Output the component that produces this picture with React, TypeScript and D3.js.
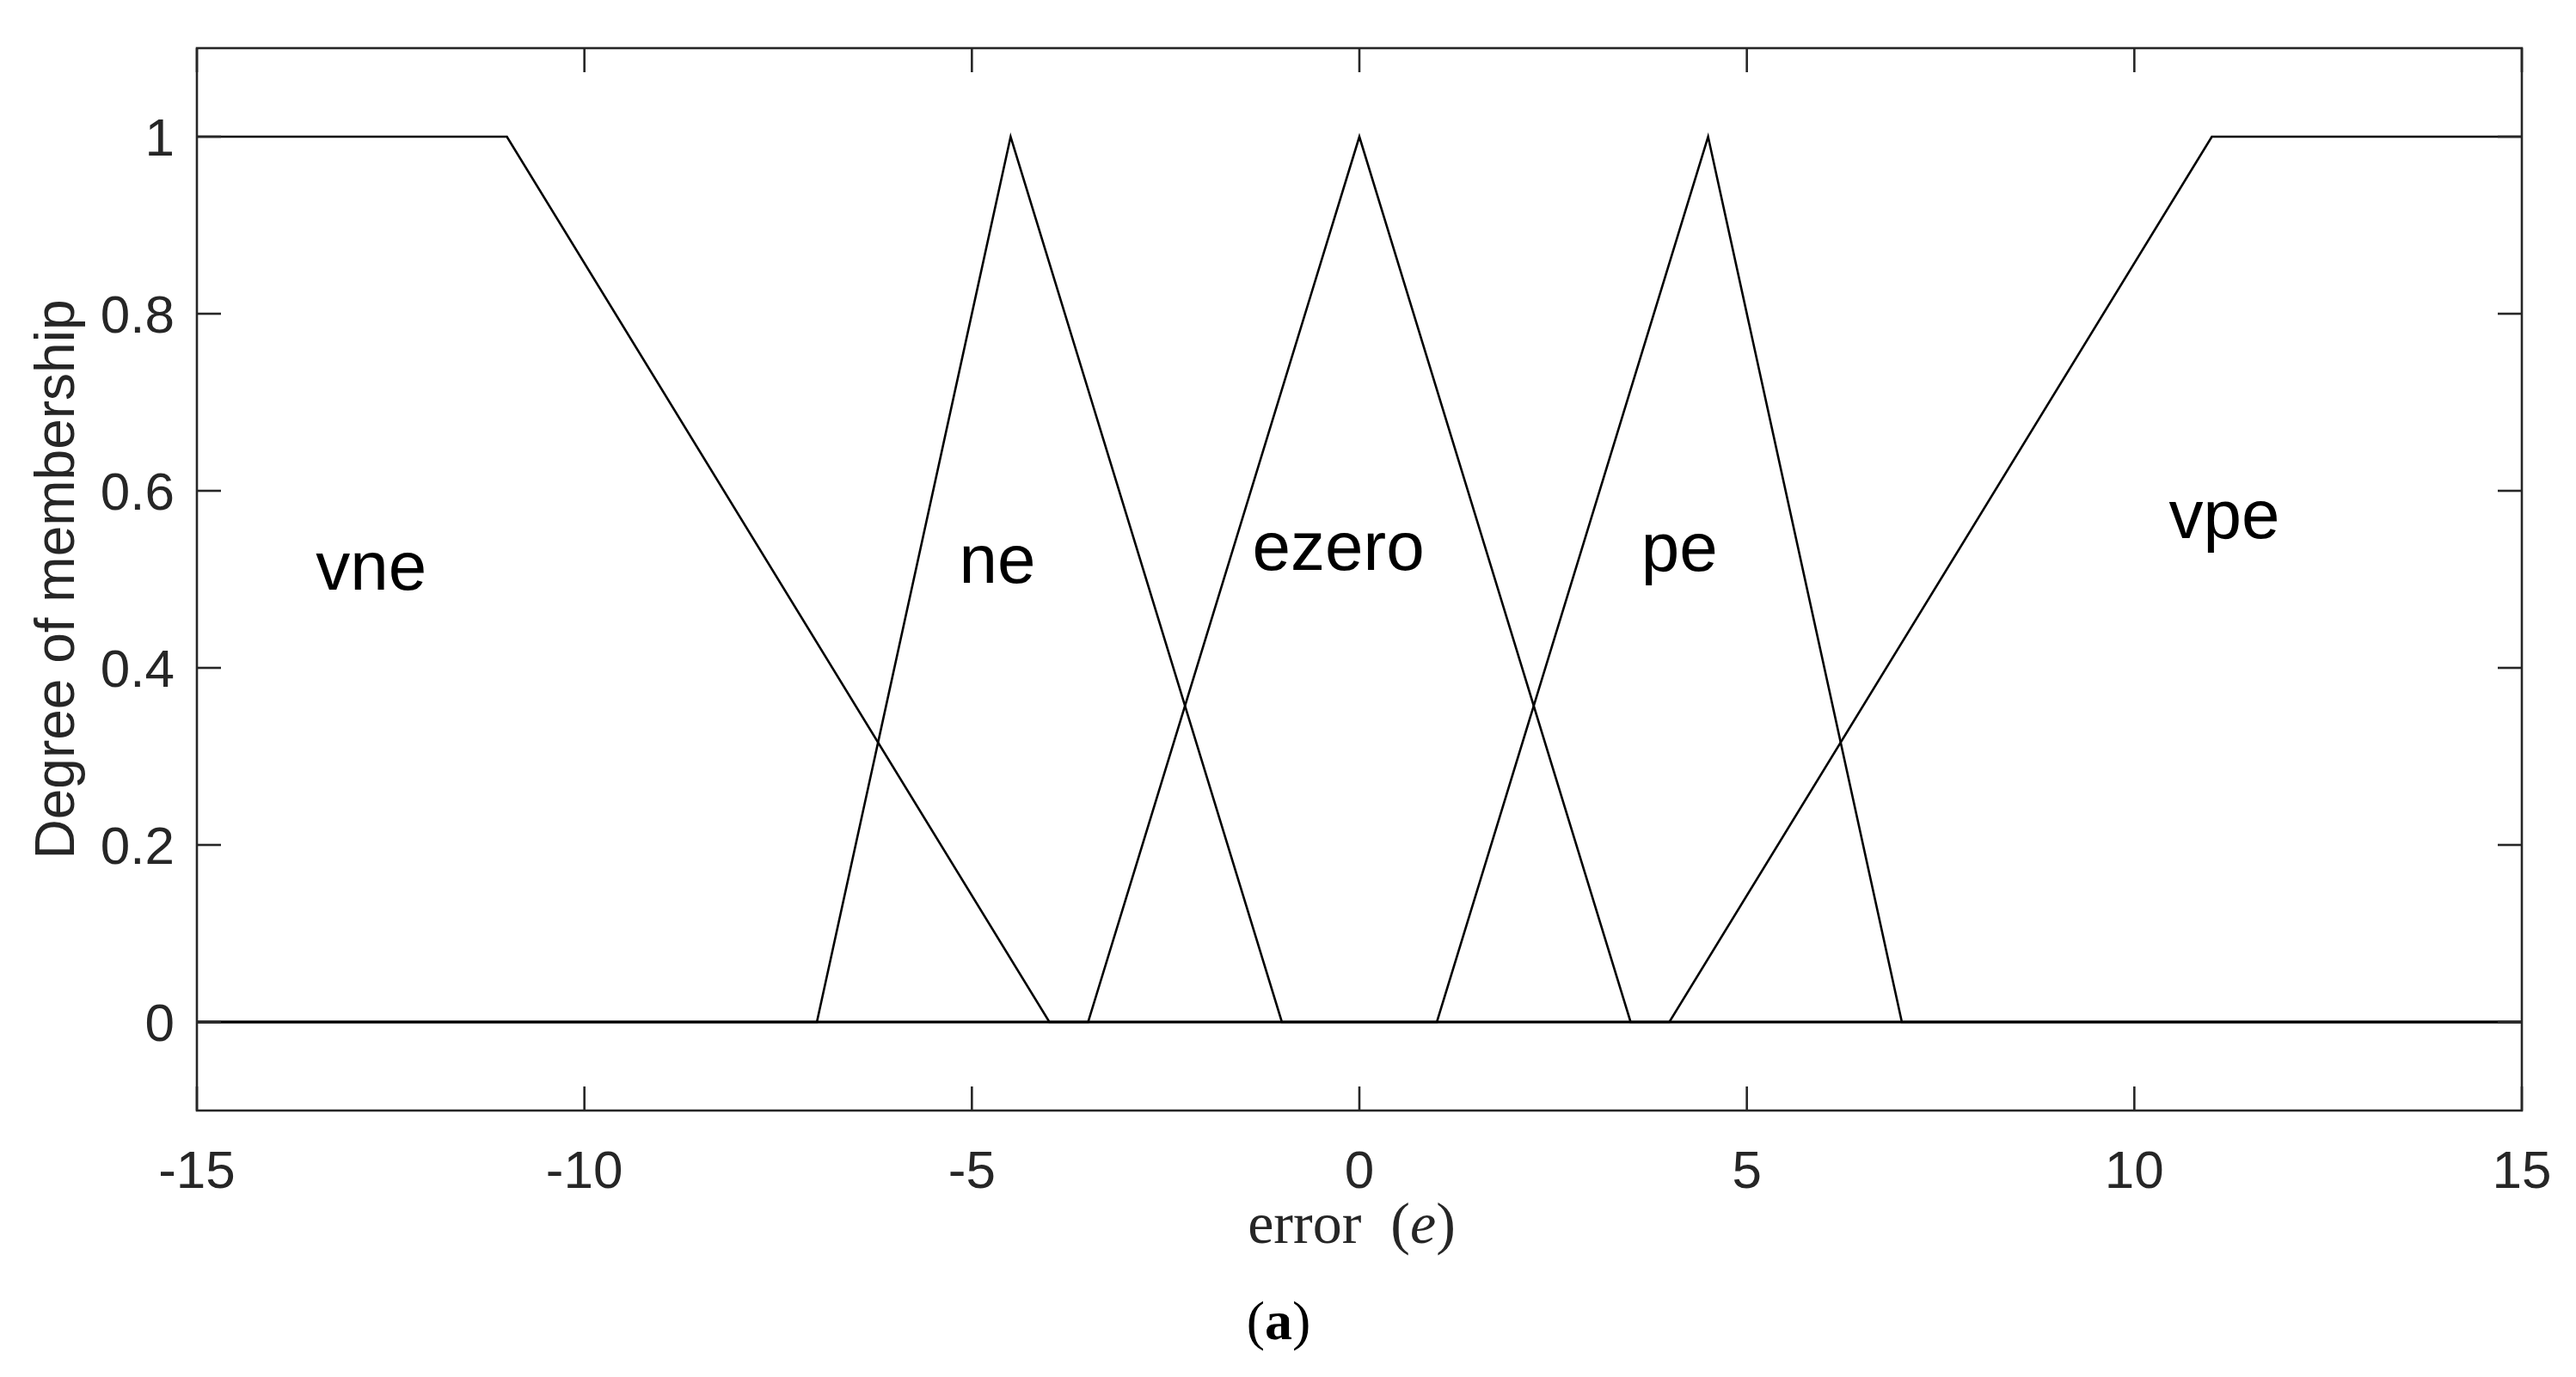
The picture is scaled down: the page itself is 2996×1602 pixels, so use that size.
import React, { useEffect, useRef } from "react";
import * as d3 from "d3";

// membership functions of the error input (breakpoints of each line)
const mfNames = ["vne", "ne", "ezero", "pe", "vpe"];
const vneX = [-15, -11, -4, 15];
const vneY = [1, 1, 0, 0];
const neX = [-15, -7, -4.5, -1, 15];
const neY = [0, 0, 1, 0, 0];
const ezeroX = [-15, -3.5, 0, 3.5, 15];
const ezeroY = [0, 0, 1, 0, 0];
const peX = [-15, 1, 4.5, 7, 15];
const peY = [0, 0, 1, 0, 0];
const vpeX = [-15, 4, 11, 15];
const vpeY = [0, 0, 1, 1];

// where the names sit, in data units
const labelX = [-12.75, -4.67, -0.27, 4.13, 11.16];
const labelY = [0.488, 0.496, 0.511, 0.51, 0.547];

const xTicks = [-15, -10, -5, 0, 5, 10, 15];
const yTicks = [0, 0.2, 0.4, 0.6, 0.8, 1];

const W = 2996, H = 1602;
const margin = { left: 229, right: 63, top: 56, bottom: 310 };

const App = () => {
  const svgRef = useRef<SVGSVGElement>(null);

  useEffect(() => {
    const svg = d3.select(svgRef.current);
    svg.selectAll("*").remove();

    const x = d3.scaleLinear().domain([-15, 15]).range([margin.left, W - margin.right]);
    const y = d3.scaleLinear().domain([-0.1, 1.1]).range([H - margin.bottom, margin.top]);

    const axisColor = "#262626";
    const sans = "'Liberation Sans', Arial, Helvetica, sans-serif";
    const serif = "'Liberation Serif', 'Times New Roman', serif";
    const tickLen = 28;

    const series = [
      [vneX, vneY],
      [neX, neY],
      [ezeroX, ezeroY],
      [peX, peY],
      [vpeX, vpeY],
    ].map(([xs, ys]) => xs.map((v, i) => [v, ys[i]] as [number, number]));

    const line = d3.line<[number, number]>().x(d => x(d[0])).y(d => y(d[1]));

    svg.append("g")
      .selectAll("path")
      .data(series)
      .join("path")
      .attr("d", d => line(d))
      .attr("fill", "none")
      .attr("stroke", "#000")
      .attr("stroke-width", 2.6)
      .attr("stroke-linejoin", "miter");

    // box + inward ticks on all sides
    const [x0, x1] = x.range();
    const [y0, y1] = y.range();
    const axes = svg.append("g").attr("stroke", axisColor).attr("stroke-width", 2.6);
    axes.append("rect")
      .attr("x", x0).attr("y", y1)
      .attr("width", x1 - x0).attr("height", y0 - y1)
      .attr("fill", "none");
    xTicks.forEach(t => {
      axes.append("line").attr("x1", x(t)).attr("x2", x(t)).attr("y1", y0).attr("y2", y0 - tickLen);
      axes.append("line").attr("x1", x(t)).attr("x2", x(t)).attr("y1", y1).attr("y2", y1 + tickLen);
    });
    yTicks.forEach(t => {
      axes.append("line").attr("x1", x0).attr("x2", x0 + tickLen).attr("y1", y(t)).attr("y2", y(t));
      axes.append("line").attr("x1", x1).attr("x2", x1 - tickLen).attr("y1", y(t)).attr("y2", y(t));
    });

    // tick labels
    svg.append("g")
      .selectAll("text")
      .data(xTicks)
      .join("text")
      .attr("x", d => x(d))
      .attr("y", 1382)
      .attr("text-anchor", "middle")
      .attr("fill", axisColor)
      .style("font-family", sans)
      .style("font-size", "62px")
      .text(d => String(d));

    svg.append("g")
      .selectAll("text")
      .data(yTicks)
      .join("text")
      .attr("x", x0 - 26)
      .attr("y", d => y(d))
      .attr("dy", "0.36em")
      .attr("text-anchor", "end")
      .attr("fill", axisColor)
      .style("font-family", sans)
      .style("font-size", "62px")
      .text(d => String(d));

    // y axis title
    svg.append("text")
      .attr("transform", `translate(86,${(y0 + y1) / 2}) rotate(-90)`)
      .attr("text-anchor", "middle")
      .attr("fill", axisColor)
      .style("font-family", sans)
      .style("font-size", "64px")
      .text("Degree of membership");

    // x axis title (LaTeX style)
    const xl = svg.append("text")
      .attr("x", 1572)
      .attr("y", 1446)
      .attr("text-anchor", "middle")
      .attr("fill", axisColor)
      .style("font-family", serif)
      .style("font-size", "68px");
    xl.append("tspan").text("error\u2002(");
    xl.append("tspan").style("font-style", "italic").text("e");
    xl.append("tspan").text(")");

    // sub-figure caption
    const cap = svg.append("text")
      .attr("x", 1487)
      .attr("y", 1558)
      .attr("text-anchor", "middle")
      .attr("fill", "#000")
      .style("font-family", serif)
      .style("font-size", "64px");
    cap.append("tspan").text("(");
    cap.append("tspan").style("font-weight", "bold").text("a");
    cap.append("tspan").text(")");

    // membership function names
    svg.append("g")
      .selectAll("text")
      .data(mfNames)
      .join("text")
      .attr("x", (d, i) => x(labelX[i]))
      .attr("y", (d, i) => y(labelY[i]))
      .attr("text-anchor", "middle")
      .attr("fill", "#000")
      .style("font-family", sans)
      .style("font-size", "80px")
      .text(d => d);
  }, []);

  return (
    <svg
      ref={svgRef}
      width={W}
      height={H}
      style={{ position: "absolute", left: 0, top: 0, background: "#fff" }}
    />
  );
};

export default App;
